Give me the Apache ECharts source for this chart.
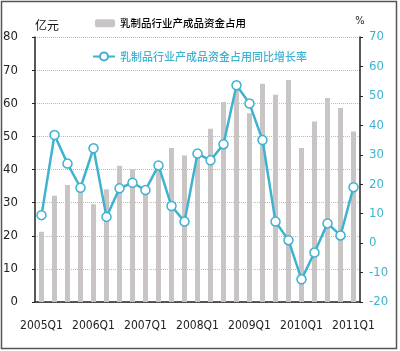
<!DOCTYPE html>
<html>
<head>
<meta charset="utf-8">
<script src="https://cdn.jsdelivr.net/npm/echarts@6/dist/echarts.min.js"></script>
<style>
  html, body { margin: 0; padding: 0; background: #fff; }
  #main { width: 400px; height: 351px; }
</style>
</head>
<body>
<div id="main"></div>
<script>
// quarters 2005Q1 .. 2011Q1
var quarters = [
    '2005Q1', '2005Q2', '2005Q3', '2005Q4',
    '2006Q1', '2006Q2', '2006Q3', '2006Q4',
    '2007Q1', '2007Q2', '2007Q3', '2007Q4',
    '2008Q1', '2008Q2', '2008Q3', '2008Q4',
    '2009Q1', '2009Q2', '2009Q3', '2009Q4',
    '2010Q1', '2010Q2', '2010Q3', '2010Q4',
    '2011Q1'
];
// 产成品资金占用 (亿元)
var fundValues = [
    21.2, 32.1, 35.3, 34.0,
    29.5, 34.0, 41.1, 40.1,
    34.5, 40.0, 46.5, 44.2,
    44.0, 52.3, 60.4, 64.0,
    57.0, 65.9, 62.6, 67.0,
    46.5, 54.5, 61.6, 58.6,
    51.5
];
// 同比增长率 (%)
var growthRates = [
    9.5, 36.7, 27.0, 18.8,
    32.2, 8.9, 18.6, 20.5,
    18.0, 26.4, 12.6, 7.3,
    30.4, 28.1, 33.6, 53.6,
    47.4, 35.0, 7.3, 1.0,
    -12.3, -3.2, 6.7, 2.6,
    19.0
];

var barName = '乳制品行业产成品资金占用';
var lineName = '乳制品行业产成品资金占用同比增长率';
var barColor = '#c9c5c4';
var lineColor = '#3fb2d0';
var numFont = "'Liberation Sans Narrow', 'DejaVu Sans Condensed', sans-serif";
var cjkFont = "'Noto Sans CJK SC', sans-serif";

var chart = echarts.init(document.getElementById('main'));
chart.setOption({
    animation: false,
    backgroundColor: '#fff',
    graphic: [{
        type: 'rect',
        shape: { x: 1.5, y: 1.5, width: 395, height: 347 },
        style: { fill: 'none', stroke: '#555', lineWidth: 1.5 },
        silent: true
    }],
    legend: [{
        data: [barName],
        left: 95,
        top: 18,
        padding: 0,
        itemWidth: 20,
        itemHeight: 8,
        textStyle: { fontFamily: cjkFont, fontSize: 10.5, fontWeight: 500, color: '#000' }
    }, {
        data: [lineName],
        left: 92,
        top: 51,
        padding: 0,
        itemWidth: 22,
        itemHeight: 10,
        textStyle: { fontFamily: cjkFont, fontSize: 11, fontWeight: 500, color: lineColor }
    }],
    grid: { left: 35, right: 40, top: 37, bottom: 49 },
    xAxis: {
        type: 'category',
        data: quarters,
        axisLine: { lineStyle: { color: '#222', width: 1.5 } },
        axisTick: { interval: 1, length: 4, lineStyle: { color: '#222' } },
        axisLabel: {
            interval: 3,
            margin: 18,
            fontFamily: numFont,
            fontSize: 12,
            color: '#222'
        },
        splitLine: { show: false }
    },
    yAxis: [{
        type: 'value',
        min: 0,
        max: 80,
        interval: 10,
        name: '亿元',
        nameLocation: 'end',
        nameGap: 6,
        nameTextStyle: {
            fontFamily: cjkFont, fontSize: 12, color: '#111',
            align: 'left'
        },
        axisLine: { show: true, lineStyle: { color: '#222', width: 1.5 } },
        axisTick: { show: true, length: 3, lineStyle: { color: '#222' } },
        axisLabel: { margin: 17, fontFamily: numFont, fontSize: 13, color: '#222' },
        splitLine: { lineStyle: { type: 'dotted', color: '#c9b4b4', width: 1 } }
    }, {
        type: 'value',
        min: -20,
        max: 70,
        interval: 10,
        name: '%',
        nameLocation: 'end',
        nameGap: 10,
        nameTextStyle: { fontFamily: numFont, fontSize: 11, color: '#222', align: 'center' },
        axisLine: { show: true, lineStyle: { color: '#222', width: 1.5 } },
        axisTick: { show: true, length: 3, lineStyle: { color: '#222' } },
        axisLabel: { margin: 9, fontFamily: numFont, fontSize: 13, color: lineColor },
        splitLine: { show: false }
    }],
    series: [{
        name: barName,
        type: 'bar',
        data: fundValues,
        barWidth: 5,
        itemStyle: { color: barColor },
        yAxisIndex: 0
    }, {
        name: lineName,
        type: 'line',
        data: growthRates,
        yAxisIndex: 1,
        symbol: 'circle',
        symbolSize: 9,
        showAllSymbol: true,
        lineStyle: { color: lineColor, width: 2.5 },
        itemStyle: { color: '#fff', borderColor: lineColor, borderWidth: 1.5 }
    }]
});
</script>
</body>
</html>
